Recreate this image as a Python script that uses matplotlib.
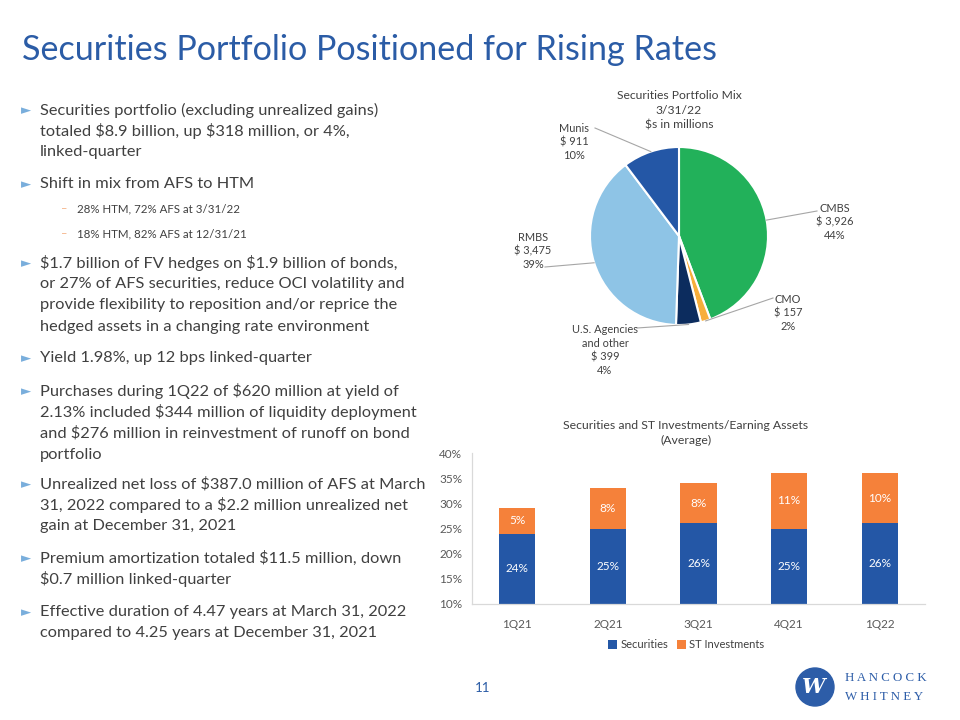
import matplotlib
matplotlib.use('Agg')
import matplotlib.pyplot as plt
import numpy as np
from matplotlib.patches import Circle

W, H = 960, 720
FONT = ['Lato', 'DejaVu Sans']
plt.rcParams['font.family'] = FONT
plt.rcParams['text.parse_math'] = False

TITLE_BLUE = '#2B5CA6'
TEXT = '#404040'

title = 'Securities Portfolio Positioned for Rising Rates'

# (level, text) - level 0 is a main bullet, 1 is a sub bullet
bullets = [
    (0, 'Securities portfolio (excluding unrealized gains)\ntotaled $8.9 billion, up $318 million, or 4%,\nlinked-quarter'),
    (0, 'Shift in mix from AFS to HTM'),
    (1, '28% HTM, 72% AFS at 3/31/22'),
    (1, '18% HTM, 82% AFS at 12/31/21'),
    (0, '$1.7 billion of FV hedges on $1.9 billion of bonds,\nor 27% of AFS securities, reduce OCI volatility and\nprovide flexibility to reposition and/or reprice the\nhedged assets in a changing rate environment'),
    (0, 'Yield 1.98%, up 12 bps linked-quarter'),
    (0, 'Purchases during 1Q22 of $620 million at yield of\n2.13% included $344 million of liquidity deployment\nand $276 million in reinvestment of runoff on bond\nportfolio'),
    (0, 'Unrealized net loss of $387.0 million of AFS at March\n31, 2022 compared to a $2.2 million unrealized net\ngain at December 31, 2021'),
    (0, 'Premium amortization totaled $11.5 million, down\n$0.7 million linked-quarter'),
    (0, 'Effective duration of 4.47 years at March 31, 2022\ncompared to 4.25 years at December 31, 2021'),
]

mix_title = 'Securities Portfolio Mix\n3/31/22\n$s in millions'
mix_labels = ['CMBS', 'CMO', 'U.S. Agencies\nand other', 'RMBS', 'Munis']
mix_values = [3926, 157, 399, 3475, 911]
mix_colors = ['#22B15A', '#F7AE3B', '#0C2C5E', '#8EC4E6', '#2457A6']

bar_title = 'Securities and ST Investments/Earning Assets\n(Average)'
quarters = ['1Q21', '2Q21', '3Q21', '4Q21', '1Q22']
securities = [24, 25, 26, 25, 26]
st_invest = [5, 8, 8, 11, 10]


fig = plt.figure(figsize=(W / 100, H / 100), dpi=100)
fig.patch.set_facecolor('white')


def T(x, y, s, **kw):
    return fig.text(x / W, 1 - y / H, s, **kw)


# title
T(22, 50, title, fontsize=24.6, color=TITLE_BLUE, va='center', ha='left')

# bullets
line_h = 21.2
starts = [110, 184, 209, 234, 263, 358, 391, 484, 558, 612]
for (lvl, txt), y0 in zip(bullets, starts):
    if lvl == 0:
        T(21, y0 + 1, '\u25BA', fontsize=9.5, color='#79AEDC', va='center', ha='left',
          family=['DejaVu Sans'])
        for i, ln in enumerate(txt.split('\n')):
            T(40, y0 + i * line_h, ln, fontsize=11.8, color=TEXT, va='center', ha='left')
    else:
        T(61, y0, '\u2013', fontsize=8, color='#F4B183', va='center', ha='left')
        T(77, y0, txt, fontsize=8.3, color=TEXT, va='center', ha='left')

# overlay axes in pixel coords for the pie
ov = fig.add_axes([0, 0, 1, 1])
ov.set_xlim(0, W)
ov.set_ylim(0, H)
ov.axis('off')

cx, cy, r = 679, 236, 89
wedges, _ = ov.pie(mix_values, colors=mix_colors, startangle=90, counterclock=False,
                   center=(cx, H - cy), radius=r,
                   wedgeprops=dict(edgecolor='white', linewidth=1.5))
ov.set_xlim(0, W)
ov.set_ylim(0, H)
ov.set_aspect('equal')

T(cx, 110, mix_title, fontsize=8.7, color=TEXT, ha='center', va='center', linespacing=1.4)

total = sum(mix_values)
# label block centre and leader line end, in pixels
label_pos = [(835, 222, 817, 211), (788, 313, 773, 298), (605, 350, 637, 328),
             (533, 251, 545, 267), (574, 142, 595, 128)]
for w, lab, val, (lx, ly, ex, ey) in zip(wedges, mix_labels, mix_values, label_pos):
    ang = np.deg2rad((w.theta1 + w.theta2) / 2)
    sx = cx + r * np.cos(ang)
    sy = (H - cy) + r * np.sin(ang)
    ov.plot([sx, ex], [sy, H - ey], color='#A6A6A6', lw=0.8)
    txt = f'{lab}\n$ {val:,}\n{round(val / total * 100):.0f}%'
    T(lx, ly, txt, fontsize=7.9, color=TEXT, ha='center', va='center', linespacing=1.3)

# bar chart
ax = fig.add_axes([472 / W, 1 - 604 / H, (925 - 472) / W, (604 - 453) / H])
x = np.arange(len(quarters))
ax.bar(x, securities, width=0.4, color='#2457A6', label='Securities', zorder=2)
ax.bar(x, st_invest, width=0.4, bottom=securities, color='#F5813A',
       label='ST Investments', zorder=2)
ax.set_ylim(10, 40)
ax.set_xlim(-0.5, len(quarters) - 0.5)
ax.set_yticks(range(10, 41, 5))
ax.set_yticklabels([f'{v}%' for v in range(10, 41, 5)])
ax.set_xticks(x)
ax.set_xticklabels(quarters)
ax.tick_params(length=0, labelsize=8.5, colors='#595959', pad=7)
ax.tick_params(axis='x', pad=11)
for s in ['top', 'right']:
    ax.spines[s].set_visible(False)
for s in ['left', 'bottom']:
    ax.spines[s].set_color('#D9D9D9')
    ax.spines[s].set_linewidth(0.9)
for i in range(len(quarters)):
    ax.text(i, (10 + securities[i]) / 2, f'{securities[i]}%', ha='center', va='center',
            color='white', fontsize=8.5)
    ax.text(i, securities[i] + st_invest[i] / 2, f'{st_invest[i]}%', ha='center', va='center',
            color='white', fontsize=8.5)

T(686, 433, bar_title, fontsize=8.8, color=TEXT, ha='center', va='center', linespacing=1.4)
ax.legend(loc='center', bbox_to_anchor=(686 / W, 1 - 645 / H), bbox_transform=fig.transFigure,
          ncol=2, frameon=False, fontsize=8, handlelength=0.8, handleheight=0.8,
          handletextpad=0.3, columnspacing=0.8, labelcolor=TEXT)

# page number
T(483, 688, '11', fontsize=9.5, color=TITLE_BLUE, ha='center', va='center')

# logo
ov.add_patch(Circle((815, H - 687), 19, color='#2D5DA8'))
T(814, 687, 'W', fontsize=15, color='white', ha='center', va='center', weight='bold',
  style='italic', family=['DejaVu Serif'])
T(845, 678, 'H A N C O C K', fontsize=9.3, color='#2D5DA8', ha='left', va='center',
  family=['Liberation Serif'])
T(845, 697, 'W H I T N E Y', fontsize=9.3, color='#2D5DA8', ha='left', va='center',
  family=['Liberation Serif'])

fig.savefig('out.png', dpi=100)
